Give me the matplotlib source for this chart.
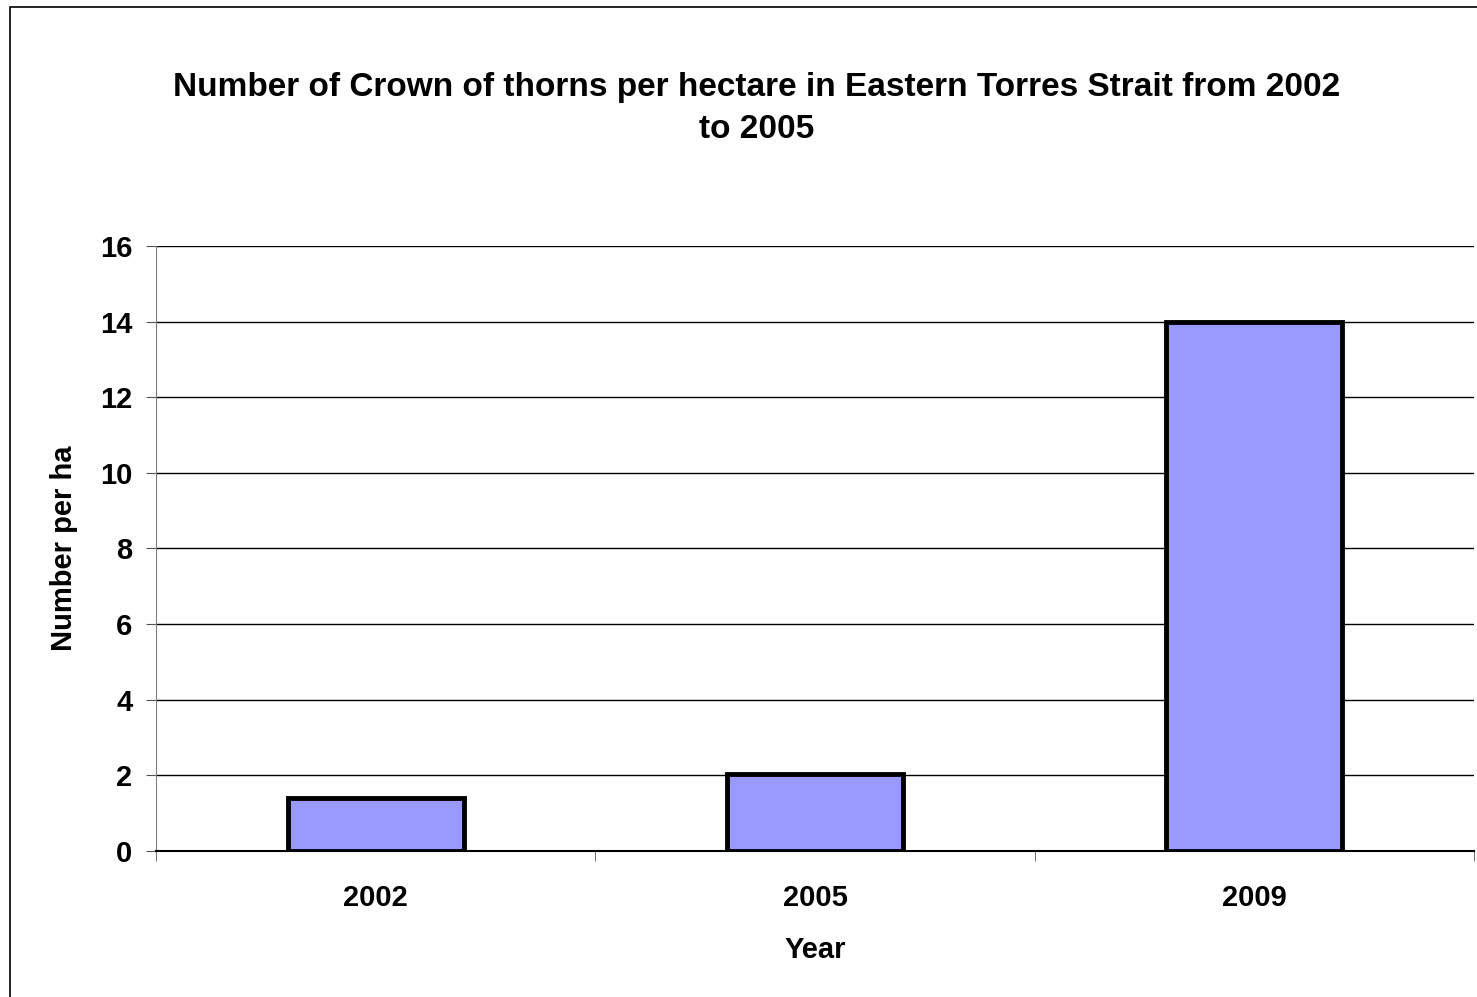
import matplotlib
matplotlib.use("Agg")
import matplotlib.pyplot as plt
from matplotlib.patches import Rectangle

years = ["2002", "2005", "2009"]
per_ha = [1.4, 2.05, 14.0]
y_ticks = [0, 2, 4, 6, 8, 10, 12, 14, 16]

plt.rcParams['font.family'] = ['Liberation Sans', 'DejaVu Sans']
plt.rcParams['font.weight'] = 'bold'

fig = plt.figure(figsize=(14.77, 9.97), dpi=100)
ax = fig.add_axes([0.1056, 0.1464, 0.8924, 0.6069])

# outer chart frame (only left/top fall inside the picture)
fig.patches.append(Rectangle((0.0068, -0.1), 1.2, 1.093, transform=fig.transFigure,
                             fill=False, edgecolor='black', linewidth=1.2))

x = list(range(len(years)))
ax.bar(x, per_ha, width=0.4, color='#9999ff', edgecolor='black', linewidth=3.5, zorder=3)

ax.set_xlim(-0.5, len(years) - 0.5)
ax.set_ylim(0, 16)
ax.set_yticks(y_ticks)
ax.set_yticklabels([str(v) for v in y_ticks], fontsize=21, fontweight='bold')
ax.yaxis.grid(True, color='black', linewidth=1.0, zorder=0)

ax.set_xticks(x)
ax.set_xticklabels(years, fontsize=21, fontweight='bold')
ax.tick_params(axis='x', length=0, pad=24)
ax.set_xticks([i - 0.5 for i in range(len(years) + 1)], minor=True)
ax.tick_params(axis='x', which='minor', length=7, direction='out', color='#555555')
ax.tick_params(axis='y', length=7, direction='out', color='#555555', pad=10)

for s in ['top', 'right']:
    ax.spines[s].set_visible(False)
ax.spines['left'].set_color('#808080')
ax.spines['bottom'].set_color('black')
ax.spines['bottom'].set_linewidth(1.5)

ax.set_xlabel("Year", fontsize=21, fontweight='bold', labelpad=17)
ax.set_ylabel("Number per ha", fontsize=21, fontweight='bold', labelpad=16)

fig.text(0.512, 0.891,
         "Number of Crown of thorns per hectare in Eastern Torres Strait from 2002\nto 2005",
         ha='center', va='center', fontsize=24, fontweight='bold', linespacing=1.45)

fig.savefig("out.png", dpi=100, facecolor='white')
